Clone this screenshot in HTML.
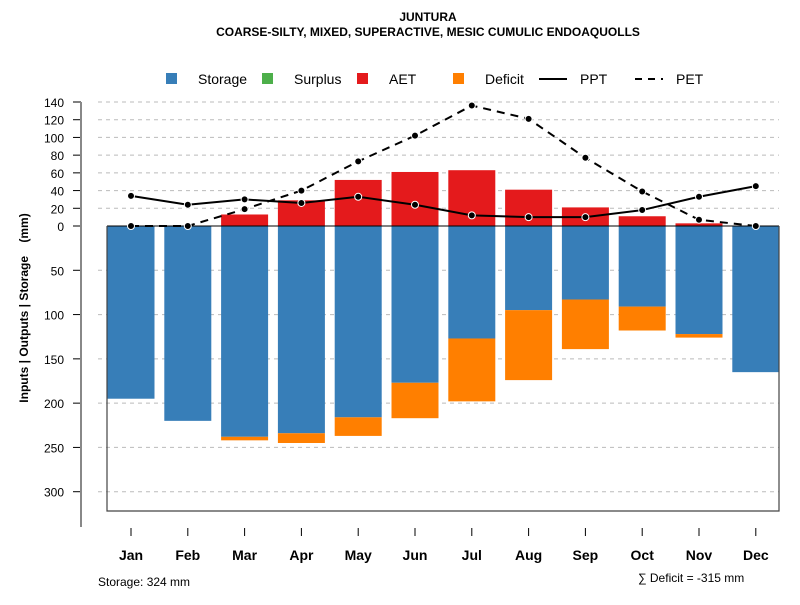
<!DOCTYPE html>
<html><head><meta charset="utf-8"><style>
body{margin:0;background:#fff}
svg text{font-family:"Liberation Sans",sans-serif}
</style></head><body>
<svg id="c" width="800" height="600" xmlns="http://www.w3.org/2000/svg">
<text x="428" y="21" text-anchor="middle" font-size="12" font-weight="bold">JUNTURA</text>
<text x="428" y="36" text-anchor="middle" font-size="12" font-weight="bold">COARSE-SILTY, MIXED, SUPERACTIVE, MESIC CUMULIC ENDOAQUOLLS</text>
<g id="legend">
<rect x="166" y="73" width="11" height="11" fill="#377eb8"/>
<text x="198" y="84" font-size="14">Storage</text>
<rect x="262" y="73" width="11" height="11" fill="#4daf4a"/>
<text x="294" y="84" font-size="14">Surplus</text>
<rect x="357" y="73" width="11" height="11" fill="#e41a1c"/>
<text x="389" y="84" font-size="14">AET</text>
<rect x="453" y="73" width="11" height="11" fill="#ff7f00"/>
<text x="485" y="84" font-size="14">Deficit</text>
<line x1="539" y1="79" x2="567" y2="79" stroke="#000" stroke-width="2"/>
<text x="580" y="84" font-size="14">PPT</text>
<line x1="635" y1="79" x2="663" y2="79" stroke="#000" stroke-width="2" stroke-dasharray="7,6"/>
<text x="676" y="84" font-size="14">PET</text>
</g>
<g id="grid"></g>
<g id="bars"></g>
<g id="lines"></g>
<g id="axes"></g>
<text transform="translate(28,308) rotate(-90)" text-anchor="middle" font-size="12" font-weight="bold">Inputs | Outputs | Storage &#160;&#160;&#160;(mm)</text>
<text x="98" y="586" font-size="12">Storage: 324 mm</text>
<text x="638" y="582" font-size="12">∑ Deficit = -315 mm</text>
</svg>
<script>
const months=["Jan","Feb","Mar","Apr","May","Jun","Jul","Aug","Sep","Oct","Nov","Dec"];
const storage=[195,220,238,234,216,177,127,95,83,91,122,165];
const deficit=[0,0,4,11,21,40,71,79,56,27,4,0];
const aet=[0,0,13,29,52,61,63,41,21,11,3,0];
const ppt=[34,24,30,26,33,24,12,10,10,18,33,45];
const pet=[0,0,19,40,73,102,136,121,77,39,7,0];
const posTicks=[0,20,40,60,80,100,120,140];
const negTicks=[50,100,150,200,250,300];
const NS="http://www.w3.org/2000/svg";
const Y0=226,K=0.8857;
const y=v=>Y0-v*K;
const x=i=>131+i*56.8;
const BW=47;
function mk(tag,attrs,parent){const e=document.createElementNS(NS,tag);for(const k in attrs)e.setAttribute(k,attrs[k]);document.getElementById(parent).appendChild(e);return e;}
posTicks.forEach(t=>{if(t>0){const g=mk('line',{x1:98,x2:779,y1:y(t),y2:y(t),stroke:'#bbb','stroke-dasharray':'4,4'},'grid');

}
const l=mk('line',{x1:73,x2:81,y1:y(t),y2:y(t),stroke:'#000'},'axes');


const tx=mk('text',{x:64,y:y(t)+5,'text-anchor':'end','font-size':12},'axes');tx.textContent=t;

});
negTicks.forEach(t=>{const g=mk('line',{x1:98,x2:779,y1:y(-t),y2:y(-t),stroke:'#bbb','stroke-dasharray':'4,4'},'grid');


const l=mk('line',{x1:73,x2:81,y1:y(-t),y2:y(-t),stroke:'#000'},'axes');


const tx=mk('text',{x:64,y:y(-t)+5,'text-anchor':'end','font-size':12},'axes');tx.textContent=t;

});
months.forEach((m,i)=>{
 const s=mk('rect',{x:x(i)-BW/2,y:Y0,width:BW,height:storage[i]*K,fill:'#377eb8'},'bars');
 
 
 if(deficit[i]>0){const d=mk('rect',{x:x(i)-BW/2,y:y(-storage[i]),width:BW,height:deficit[i]*K,fill:'#ff7f00'},'bars');
 
 }
 if(aet[i]>0){const a=mk('rect',{x:x(i)-BW/2,y:y(aet[i]),width:BW,height:aet[i]*K,fill:'#e41a1c'},'bars');
 
 }
 const t=mk('line',{x1:x(i),x2:x(i),y1:528,y2:536,stroke:'#000'},'axes');
 
 
 const tx=mk('text',{x:x(i),y:560,'text-anchor':'middle','font-size':14,'font-weight':'bold'},'axes');tx.textContent=m;
 
 
});
const z=mk('line',{x1:107,x2:779,y1:Y0,y2:Y0,stroke:'#000'},'lines');


const box=mk('path',{d:'M107,'+Y0+'V511H779V'+Y0,fill:'none',stroke:'#444','stroke-width':1.2},'axes');


const ax=mk('line',{x1:81,x2:81,y1:y(140),y2:527,stroke:'#888','stroke-width':2},'axes');


function series(arr,name,dash){
 const l=mk('polyline',{points:arr.map((v,i)=>x(i)+','+y(v)).join(' '),fill:'none',stroke:'#000','stroke-width':2,'stroke-dasharray':dash},'lines');
 
 
 arr.forEach((v,i)=>{const p=mk('circle',{cx:x(i),cy:y(v),r:3.5,fill:'#000',stroke:'#fff','stroke-width':1},'lines');
 
 });
}
series(pet,'pet','8,6');
series(ppt,'ppt','none');
</script>
</body></html>
